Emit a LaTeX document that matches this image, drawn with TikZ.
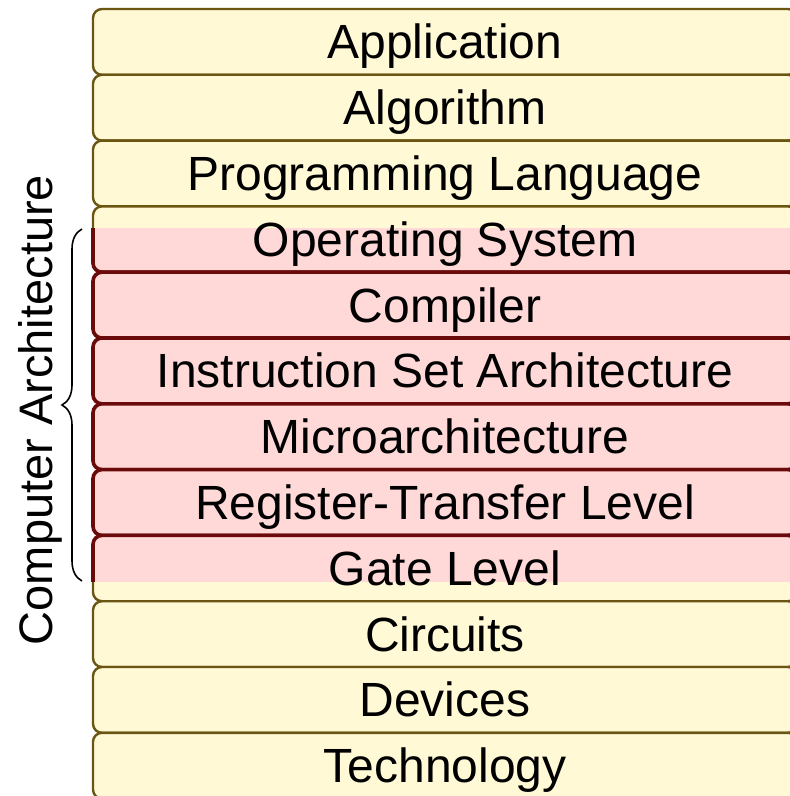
\documentclass[tikz,border=0pt]{standalone}
\usepackage{fontspec}
\setmainfont{Liberation Sans}
\usetikzlibrary{decorations.pathreplacing}
\definecolor{layfill}{HTML}{FFF9D6}
\definecolor{laydraw}{HTML}{6B5512}
\definecolor{archfill}{HTML}{FFD8D8}
\definecolor{archdraw}{HTML}{6B0A0A}
\begin{document}
\begin{tikzpicture}[x=0.5pt,y=-0.5pt,
  layer/.style={rounded corners=4.5pt, fill=layfill, draw=laydraw, line width=1.2pt},
  archlayer/.style={rounded corners=4.5pt, fill=archfill, draw=archdraw, line width=1.8pt},
  lbl/.style={font=\fontsize{24}{28}\selectfont, anchor=base, inner sep=0pt},
  sidelbl/.style={font=\fontsize{23.5}{28}\selectfont, anchor=base, inner sep=0pt, rotate=90},
  bracestyle/.style={decorate, decoration={brace, amplitude=10pt}, line width=0.8pt, draw=black}]
\clip (0,0) rectangle (790,796);
\foreach \i in {0,...,11} {
  \path[layer] (93,{9+65.8*\i}) rectangle (797,{9+65.8*(\i+1)});
}
\begin{scope}
  \clip (0,229) rectangle (800,581);
  \foreach \i in {0,...,11} {
    \path[archlayer] (93,{9+65.8*\i}) rectangle (797,{9+65.8*(\i+1)});
  }
\end{scope}
\node[lbl] (app) at (445,58.9) {Application};
\node[lbl] (alg) at (445,124.7) {Algorithm};
\node[lbl] (pl) at (445,190.5) {Programming Language};
\node[lbl] (os) at (445,256.3) {Operating System};
\node[lbl] (comp) at (445,322.1) {Compiler};
\node[lbl] (isa) at (445,387.9) {Instruction Set Architecture};
\node[lbl] (uarch) at (445,453.7) {Microarchitecture};
\node[lbl] (rtl) at (445,519.5) {Register-Transfer Level};
\node[lbl] (gate) at (445,585.3) {Gate Level};
\node[lbl] (circ) at (445,651.1) {Circuits};
\node[lbl] (dev) at (445,716.9) {Devices};
\node[lbl] (tech) at (445,782.7) {Technology};
\coordinate (bt) at (82,229);
\coordinate (bb) at (82,581);
\draw[bracestyle] (bb) -- (bt);
\node[sidelbl] (ca) at (52,410) {Computer Architecture};
\end{tikzpicture}
\end{document}
